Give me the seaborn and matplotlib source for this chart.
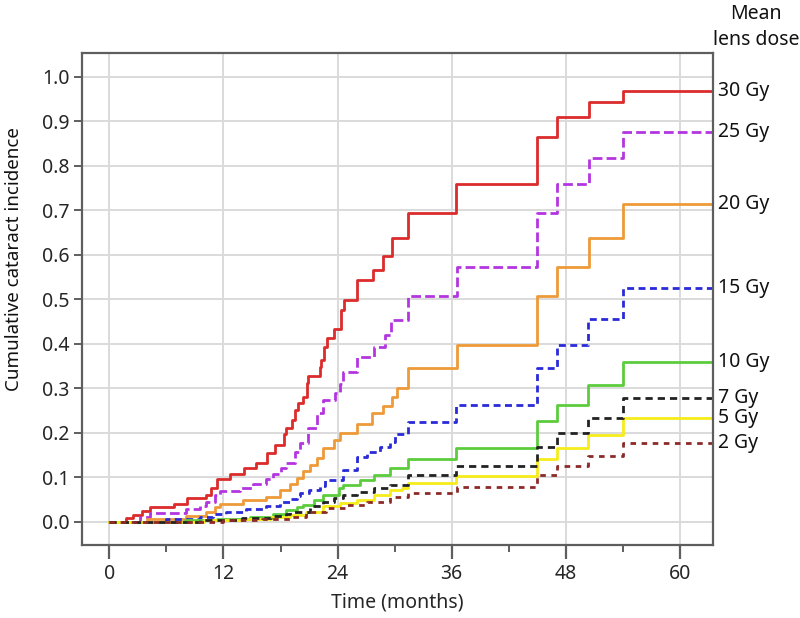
import numpy as np
import pandas as pd
import seaborn as sns
import matplotlib.pyplot as plt

# dose groups, top to bottom
doses = ['30 Gy', '25 Gy', '20 Gy', '15 Gy', '10 Gy', '7 Gy', '5 Gy', '2 Gy']

t_30 = [0, 1.75, 2.5, 3.4, 4.3, 6.8, 8.2, 10.2, 10.7, 11.3, 12.7, 14.2, 15.4, 16.6, 17.4, 18.4, 18.6, 19.2,
        19.5, 19.8, 20.4, 20.8, 20.9, 22.2, 22.3, 22.6, 22.9, 23.6, 24.4, 24.7, 26.0, 27.7, 28.8, 29.7, 31.4,
        36.5, 45.0, 47.1, 50.4, 54.0, 63.5]
v_30 = [0, 0.008, 0.015, 0.024, 0.033, 0.04, 0.052, 0.06, 0.075, 0.096, 0.106, 0.12, 0.131, 0.155, 0.172, 0.198,
        0.21, 0.228, 0.251, 0.266, 0.281, 0.311, 0.327, 0.348, 0.363, 0.393, 0.412, 0.434, 0.476, 0.498, 0.543,
        0.565, 0.596, 0.637, 0.694, 0.758, 0.865, 0.909, 0.943, 0.969, 0.969]

t_25 = [0, 3.2, 4.3, 8.1, 9.5, 10.2, 11.1, 11.6, 13.7, 15.1, 16.5, 17.2, 18.1, 18.6, 19.5, 20.0, 20.9, 21.8,
        22.5, 23.7, 24.3, 24.6, 26.0, 27.8, 29.0, 29.6, 31.4, 36.6, 45.0, 47.1, 50.4, 54.0, 63.5]
v_25 = [0, 0.01, 0.02, 0.028, 0.036, 0.043, 0.06, 0.069, 0.076, 0.084, 0.095, 0.108, 0.12, 0.131, 0.157, 0.176,
        0.211, 0.243, 0.273, 0.288, 0.31, 0.337, 0.37, 0.393, 0.419, 0.453, 0.508, 0.572, 0.694, 0.758, 0.817,
        0.876, 0.876]

t_20 = [0, 4.0, 8.1, 10.2, 11.1, 11.6, 14.1, 16.5, 17.9, 19.0, 19.7, 20.4, 21.1, 21.8, 22.5, 23.6, 24.3, 26.0,
        27.6, 28.8, 29.7, 30.3, 31.4, 36.6, 45.0, 47.1, 50.4, 54.0, 63.5]
v_20 = [0, 0.005, 0.013, 0.021, 0.032, 0.04, 0.048, 0.055, 0.07, 0.085, 0.098, 0.113, 0.128, 0.142, 0.165,
        0.184, 0.2, 0.22, 0.243, 0.26, 0.281, 0.30, 0.345, 0.396, 0.508, 0.572, 0.638, 0.713, 0.713]

t_15 = [0, 6.0, 9.5, 10.9, 12.3, 14.4, 16.5, 17.9, 19.0, 19.7, 20.1, 21.0, 22.2, 22.7, 24.6, 26.0, 27.1, 28.5,
        29.5, 30.0, 31.4, 36.5, 45.0, 47.1, 50.3, 54.0, 63.5]
v_15 = [0, 0.005, 0.01, 0.017, 0.022, 0.028, 0.036, 0.043, 0.05, 0.058, 0.065, 0.072, 0.08, 0.094, 0.116, 0.145,
        0.157, 0.168, 0.18, 0.198, 0.223, 0.261, 0.346, 0.396, 0.456, 0.525, 0.525]

t_10 = [0, 8.0, 11.3, 14.8, 17.2, 18.6, 19.7, 20.4, 21.5, 22.5, 24.1, 24.6, 26.4, 27.8, 29.5, 31.4, 36.5, 45.0,
        47.1, 50.3, 54.0, 63.5]
v_10 = [0, 0.003, 0.006, 0.011, 0.017, 0.026, 0.032, 0.037, 0.048, 0.06, 0.075, 0.082, 0.094, 0.105, 0.12, 0.141,
        0.166, 0.226, 0.261, 0.306, 0.358, 0.358]

t_7 = [0, 9.5, 14.0, 17.0, 18.6, 19.0, 21.1, 22.5, 23.6, 24.6, 26.0, 27.8, 29.5, 31.4, 36.5, 45.0, 47.1, 50.3,
       54.0, 63.5]
v_7 = [0, 0.003, 0.008, 0.012, 0.018, 0.022, 0.035, 0.045, 0.052, 0.06, 0.067, 0.075, 0.082, 0.105, 0.125, 0.168,
       0.2, 0.232, 0.278, 0.278]

t_5 = [0, 10.0, 14.0, 17.0, 19.0, 20.7, 22.5, 24.3, 26.0, 27.8, 29.5, 30.8, 31.4, 36.5, 45.0, 47.1, 50.3, 54.0,
       63.5]
v_5 = [0, 0.003, 0.006, 0.01, 0.015, 0.022, 0.034, 0.041, 0.049, 0.06, 0.07, 0.075, 0.087, 0.103, 0.141, 0.166,
       0.195, 0.232, 0.232]

t_2 = [0, 12.0, 16.0, 19.0, 20.7, 22.8, 24.9, 27.1, 29.5, 31.4, 36.6, 45.0, 47.1, 50.3, 54.0, 63.5]
v_2 = [0, 0.003, 0.006, 0.011, 0.022, 0.03, 0.037, 0.045, 0.056, 0.064, 0.077, 0.105, 0.125, 0.148, 0.176, 0.176]

times = {'30 Gy': t_30, '25 Gy': t_25, '20 Gy': t_20, '15 Gy': t_15,
         '10 Gy': t_10, '7 Gy': t_7, '5 Gy': t_5, '2 Gy': t_2}
incid = {'30 Gy': v_30, '25 Gy': v_25, '20 Gy': v_20, '15 Gy': v_15,
         '10 Gy': v_10, '7 Gy': v_7, '5 Gy': v_5, '2 Gy': v_2}

colors = {'30 Gy': '#dc2b2b', '25 Gy': '#b335e0', '20 Gy': '#ee9a38', '15 Gy': '#2a2ad8',
          '10 Gy': '#5ccc3c', '7 Gy': '#222222', '5 Gy': '#f6ec1a', '2 Gy': '#8c2a2a'}
dashes = {'30 Gy': None, '25 Gy': (3.5, 1.5), '20 Gy': None, '15 Gy': (2.5, 1.6),
          '10 Gy': None, '7 Gy': (2.6, 1.8), '5 Gy': None, '2 Gy': (2.0, 2.0)}

sns.set_theme(style='white')
plt.rcParams['font.family'] = ['Noto Sans', 'DejaVu Sans']

fig = plt.figure(figsize=(8, 6.18), dpi=100)
ax = fig.add_axes([0.1023, 0.1186, 0.789, 0.796])

# yellow goes under black, as in the original
draw_order = ['30 Gy', '25 Gy', '20 Gy', '15 Gy', '10 Gy', '5 Gy', '7 Gy', '2 Gy']
for d in draw_order:
    df = pd.DataFrame({'t': times[d], 'v': incid[d]})
    sns.lineplot(data=df, x='t', y='v', ax=ax, color=colors[d], lw=2.0,
                 drawstyle='steps-post', estimator=None, sort=False)
    ln = ax.get_lines()[-1]
    if dashes[d] is not None:
        ln.set_dashes(dashes[d])

# dose labels at the right edge
for d in doses:
    ax.text(1.008, incid[d][-1], d, transform=ax.get_yaxis_transform(),
            ha='left', va='center', fontsize=14, color='#111111')
fig.text(0.945, 0.978, 'Mean', ha='center', va='center', fontsize=14, color='#111111')
fig.text(0.945, 0.936, 'lens dose', ha='center', va='center', fontsize=14, color='#111111')

ax.set_xlim(-2.9, 63.5)
ax.set_ylim(-0.052, 1.054)
ax.set_xticks([0, 12, 24, 36, 48, 60])
ax.set_xticks([6, 18, 30, 42, 54], minor=True)
ax.set_yticks(np.round(np.arange(0, 1.01, 0.1), 1))
ax.set_yticklabels([f'{y:.1f}' for y in np.arange(0, 1.01, 0.1)])

ax.grid(True, which='major', color='#dadada', lw=1.4)
ax.set_axisbelow(True)
for s in ax.spines.values():
    s.set_color('#5e5e5e')
    s.set_linewidth(1.6)

ax.tick_params(axis='x', which='major', length=10, width=1.6, color='#5e5e5e', labelsize=14, pad=4, bottom=True)
ax.tick_params(axis='x', which='minor', length=5, width=1.4, color='#5e5e5e', bottom=True)
ax.tick_params(axis='y', which='major', length=6, width=1.4, color='#5e5e5e', labelsize=14, pad=3, left=True)

ax.set_xlabel('Time (months)', fontsize=14, labelpad=6)
ax.set_ylabel('')
fig.text(0.017, 0.58, 'Cumulative cataract incidence', rotation=90, ha='center', va='center',
         fontsize=13.5, color='#111111')

fig.savefig('out.png', dpi=100)
